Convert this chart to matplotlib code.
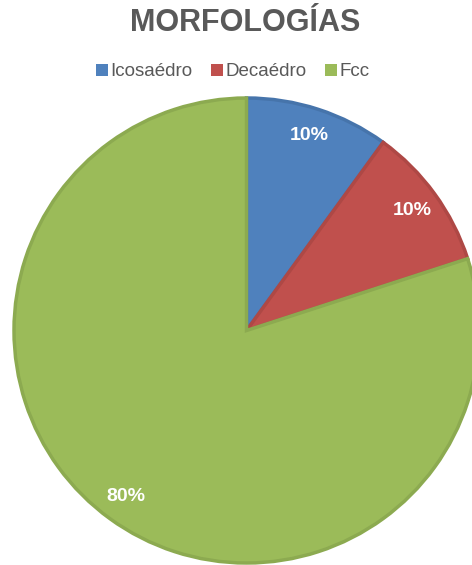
import matplotlib
matplotlib.use("Agg")
import matplotlib.pyplot as plt

# Morphology distribution
categories = ["Icosaédro", "Decaédro", "Fcc"]
shares = [10, 10, 80]
colors = ["#4F81BD", "#C0504D", "#9BBB59"]
edge_colors = ["#4674AB", "#AE4845", "#8CAA50"]

plt.rcParams["font.family"] = ["Liberation Sans", "DejaVu Sans"]

W, H = 472, 565
fig = plt.figure(figsize=(W / 100, H / 100), dpi=100)
ax = fig.add_axes([0, 0, 1, 1])

wedges, texts, autotexts = ax.pie(
    shares,
    colors=colors,
    startangle=90,
    counterclock=False,
    center=(246.5, H - 330.5),
    radius=232.5,
    autopct="%d%%",
    pctdistance=0.88,
    textprops=dict(color="white", fontsize=14, fontweight="bold"),
    frame=True,
)
for w, ec in zip(wedges, edge_colors):
    w.set_edgecolor(ec)
    w.set_linewidth(2.5)
ax.set_xlim(0, W)
ax.set_ylim(0, H)
ax.set_aspect("equal")
ax.axis("off")

fig.text(245 / W, 1 - 23 / H, "MORFOLOGÍAS", ha="center", va="center",
         fontsize=22, fontweight="bold", color="#595959")

leg = fig.legend(
    wedges, categories,
    loc="center", bbox_to_anchor=(233 / W, 1 - 72 / H),
    ncol=3, frameon=False, fontsize=13.5,
    handlelength=0.6, handleheight=0.6, handletextpad=0.15,
    columnspacing=1.0, borderpad=0,
    labelcolor="#595959",
)
for h, c in zip(leg.legend_handles, colors):
    h.set_edgecolor(c)
    h.set_linewidth(0)

fig.savefig("out.png", dpi=100, facecolor="white")
